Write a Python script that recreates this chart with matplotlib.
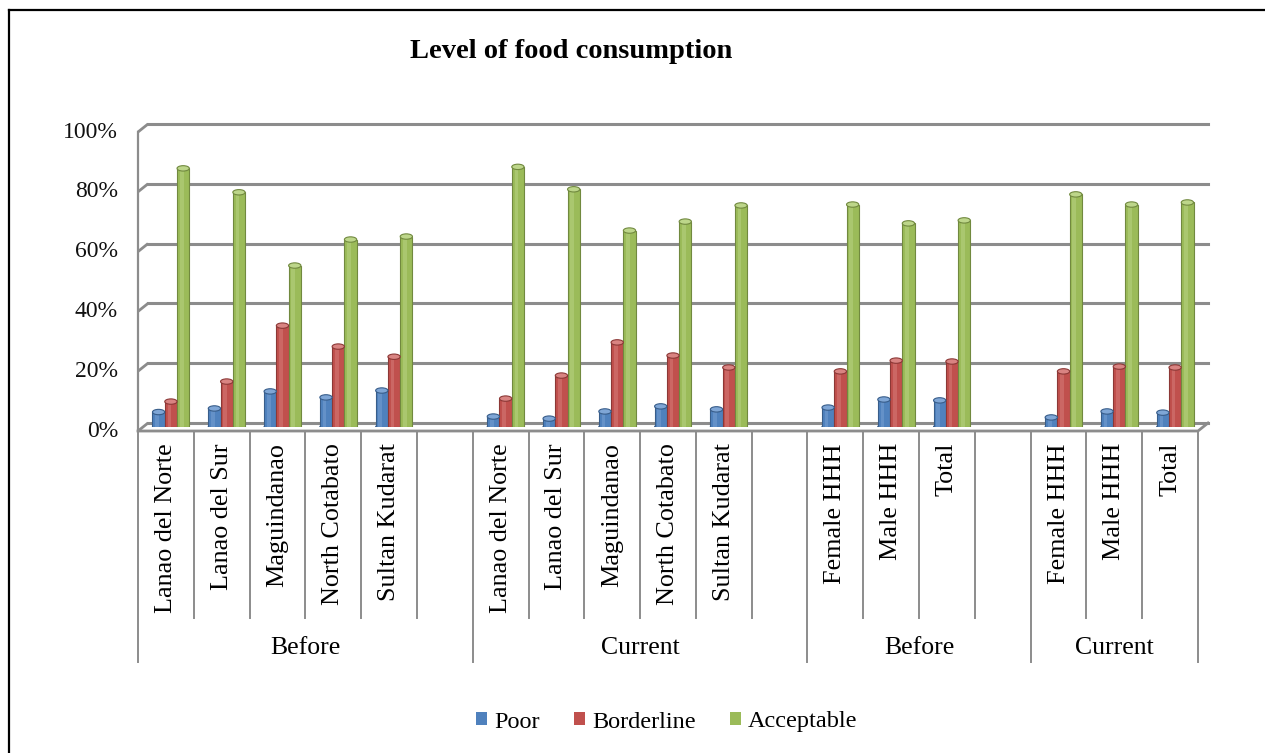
import numpy as np
import matplotlib
matplotlib.use("Agg")
import matplotlib.pyplot as plt
from matplotlib.patches import Ellipse, Patch
from matplotlib.transforms import blended_transform_factory

nan = np.nan

# category slots (empty strings are the spacer slots between groups)
categories = ["Lanao del Norte", "Lanao del Sur", "Maguindanao", "North Cotabato", "Sultan Kudarat", "",
              "Lanao del Norte", "Lanao del Sur", "Maguindanao", "North Cotabato", "Sultan Kudarat", "",
              "Female HHH", "Male HHH", "Total", "",
              "Female HHH", "Male HHH", "Total"]
groups = ["Before", "Current", "Before", "Current"]
group_edges = [0, 6, 12, 16, 19]

poor = [5.0, 6.2, 11.9, 9.9, 12.2, nan, 3.5, 2.8, 5.2, 6.9, 5.9, nan, 6.5, 9.2, 8.9, nan, 3.2, 5.2, 4.8]
borderline = [8.5, 15.2, 33.9, 26.9, 23.5, nan, 9.5, 17.2, 28.3, 23.9, 19.9, nan, 18.6, 22.2, 21.9, nan, 18.6, 20.2, 19.9]
acceptable = [86.5, 78.5, 54.0, 62.7, 63.7, nan, 87.0, 79.5, 65.7, 68.7, 74.1, nan, 74.4, 68.1, 69.1, nan, 77.8, 74.4, 75.1]

series = [("Poor", poor, "#4F81BD", "#385D8A", "#7FA6D6"),
          ("Borderline", borderline, "#C0504D", "#8C3836", "#D98482"),
          ("Acceptable", acceptable, "#9BBB59", "#71893F", "#BDD68A")]

W, H = 1265, 753
fig = plt.figure(figsize=(W / 100, H / 100), dpi=100)
plt.rcParams['font.family'] = ['Liberation Serif', 'DejaVu Serif']

# axes = middle depth plane of the Excel 3D chart
left_px, right_px, zero_px, top_px = 143, 1203, 427, 128
ax = fig.add_axes([left_px / W, 1 - zero_px / H, (right_px - left_px) / W, (zero_px - top_px) / H])
ax.set_xlim(0, len(categories))
ax.set_ylim(0, 100)
ax.axis("off")

px_x = (right_px - left_px) / len(categories)
px_y = (zero_px - top_px) / 100.0
dx = 5 / px_x   # depth offset, data units
dy = 4 / px_y

grid_col = "#8C8C8C"
n = len(categories)

# back wall gridlines + left diagonals + tick labels
for v in range(0, 101, 20):
    ax.plot([-dx, dx], [v - dy, v + dy], color=grid_col, lw=2.0, clip_on=False, solid_capstyle="butt")
    ax.plot([dx, n + dx], [v + dy, v + dy], color=grid_col, lw=2.2, clip_on=False)
    ax.text(-dx - 20 / px_x, v - dy, "%d%%" % v, ha="right", va="center",
            fontsize=17, color="#111111")

# vertical axis and floor front edge
ax.plot([-dx, -dx], [-dy, 100 - dy], color=grid_col, lw=1.6, clip_on=False)
ax.plot([-dx, n - dx, n + dx], [-dy, -dy, dy], color=grid_col, lw=2.0, clip_on=False)

# bars as cylinders
bw = 0.22
x = np.arange(n) + 0.5
for k, (name, vals, col, edge, light) in enumerate(series):
    xs = x + (k - 1) * bw
    vals = np.array(vals, dtype=float)
    ok = ~np.isnan(vals)
    ax.bar(xs[ok], vals[ok], width=bw, color=col, edgecolor=edge, linewidth=0.8, zorder=3)
    ax.bar(xs[ok] - bw * 0.12, vals[ok], width=bw * 0.3, color=light, alpha=0.45, linewidth=0, zorder=3)
    for xi, vi in zip(xs[ok], vals[ok]):
        ax.add_patch(Ellipse((xi, vi), bw, 1.8, facecolor=light, edgecolor=edge, lw=0.8, zorder=4))
        ax.add_patch(Ellipse((xi, 0), bw, 1.8, facecolor=col, edgecolor=edge, lw=0.8, zorder=2))

# category axis (front plane), lines in figure y
tr = blended_transform_factory(ax.transData, fig.transFigure)
y_top = 1 - 431 / H
y_inner = 1 - 618 / H
y_outer = 1 - 662 / H
for b in range(n + 1):
    bottom = y_outer if b in group_edges else y_inner
    ax.plot([b - dx, b - dx], [y_top, bottom], transform=tr, color=grid_col, lw=1.4, clip_on=False)

for i, lab in enumerate(categories):
    if lab:
        ax.text(i + 0.5 - dx, 1 - 443 / H, lab, transform=tr, rotation=90, ha="center", va="top",
                fontsize=18.8, color="#000000")

for g, lab in enumerate(groups):
    c = (group_edges[g] + group_edges[g + 1]) / 2 - dx
    ax.text(c, 1 - 648 / H, lab, transform=tr, ha="center", va="center", fontsize=18.5, color="#000000")

fig.text(571 / W, 1 - 51 / H, "Level of food consumption", ha="center", va="center",
         fontsize=20.5, fontweight="bold", color="#000000")

handles = [Patch(facecolor=s[2], edgecolor="none", label=s[0]) for s in series]
fig.legend(handles=handles, loc="center", bbox_to_anchor=(667 / W, 1 - 722 / H), ncol=3,
           frameon=False, fontsize=17.5, handlelength=0.45, handleheight=0.45,
           handletextpad=0.3, columnspacing=1.4)

# outer frame
fig.add_artist(plt.Line2D([9 / W, 1], [1 - 10 / H, 1 - 10 / H], transform=fig.transFigure, color="black", lw=1.6))
fig.add_artist(plt.Line2D([9 / W, 9 / W], [0, 1 - 10 / H], transform=fig.transFigure, color="black", lw=1.6))

fig.savefig("out.png", dpi=100)
